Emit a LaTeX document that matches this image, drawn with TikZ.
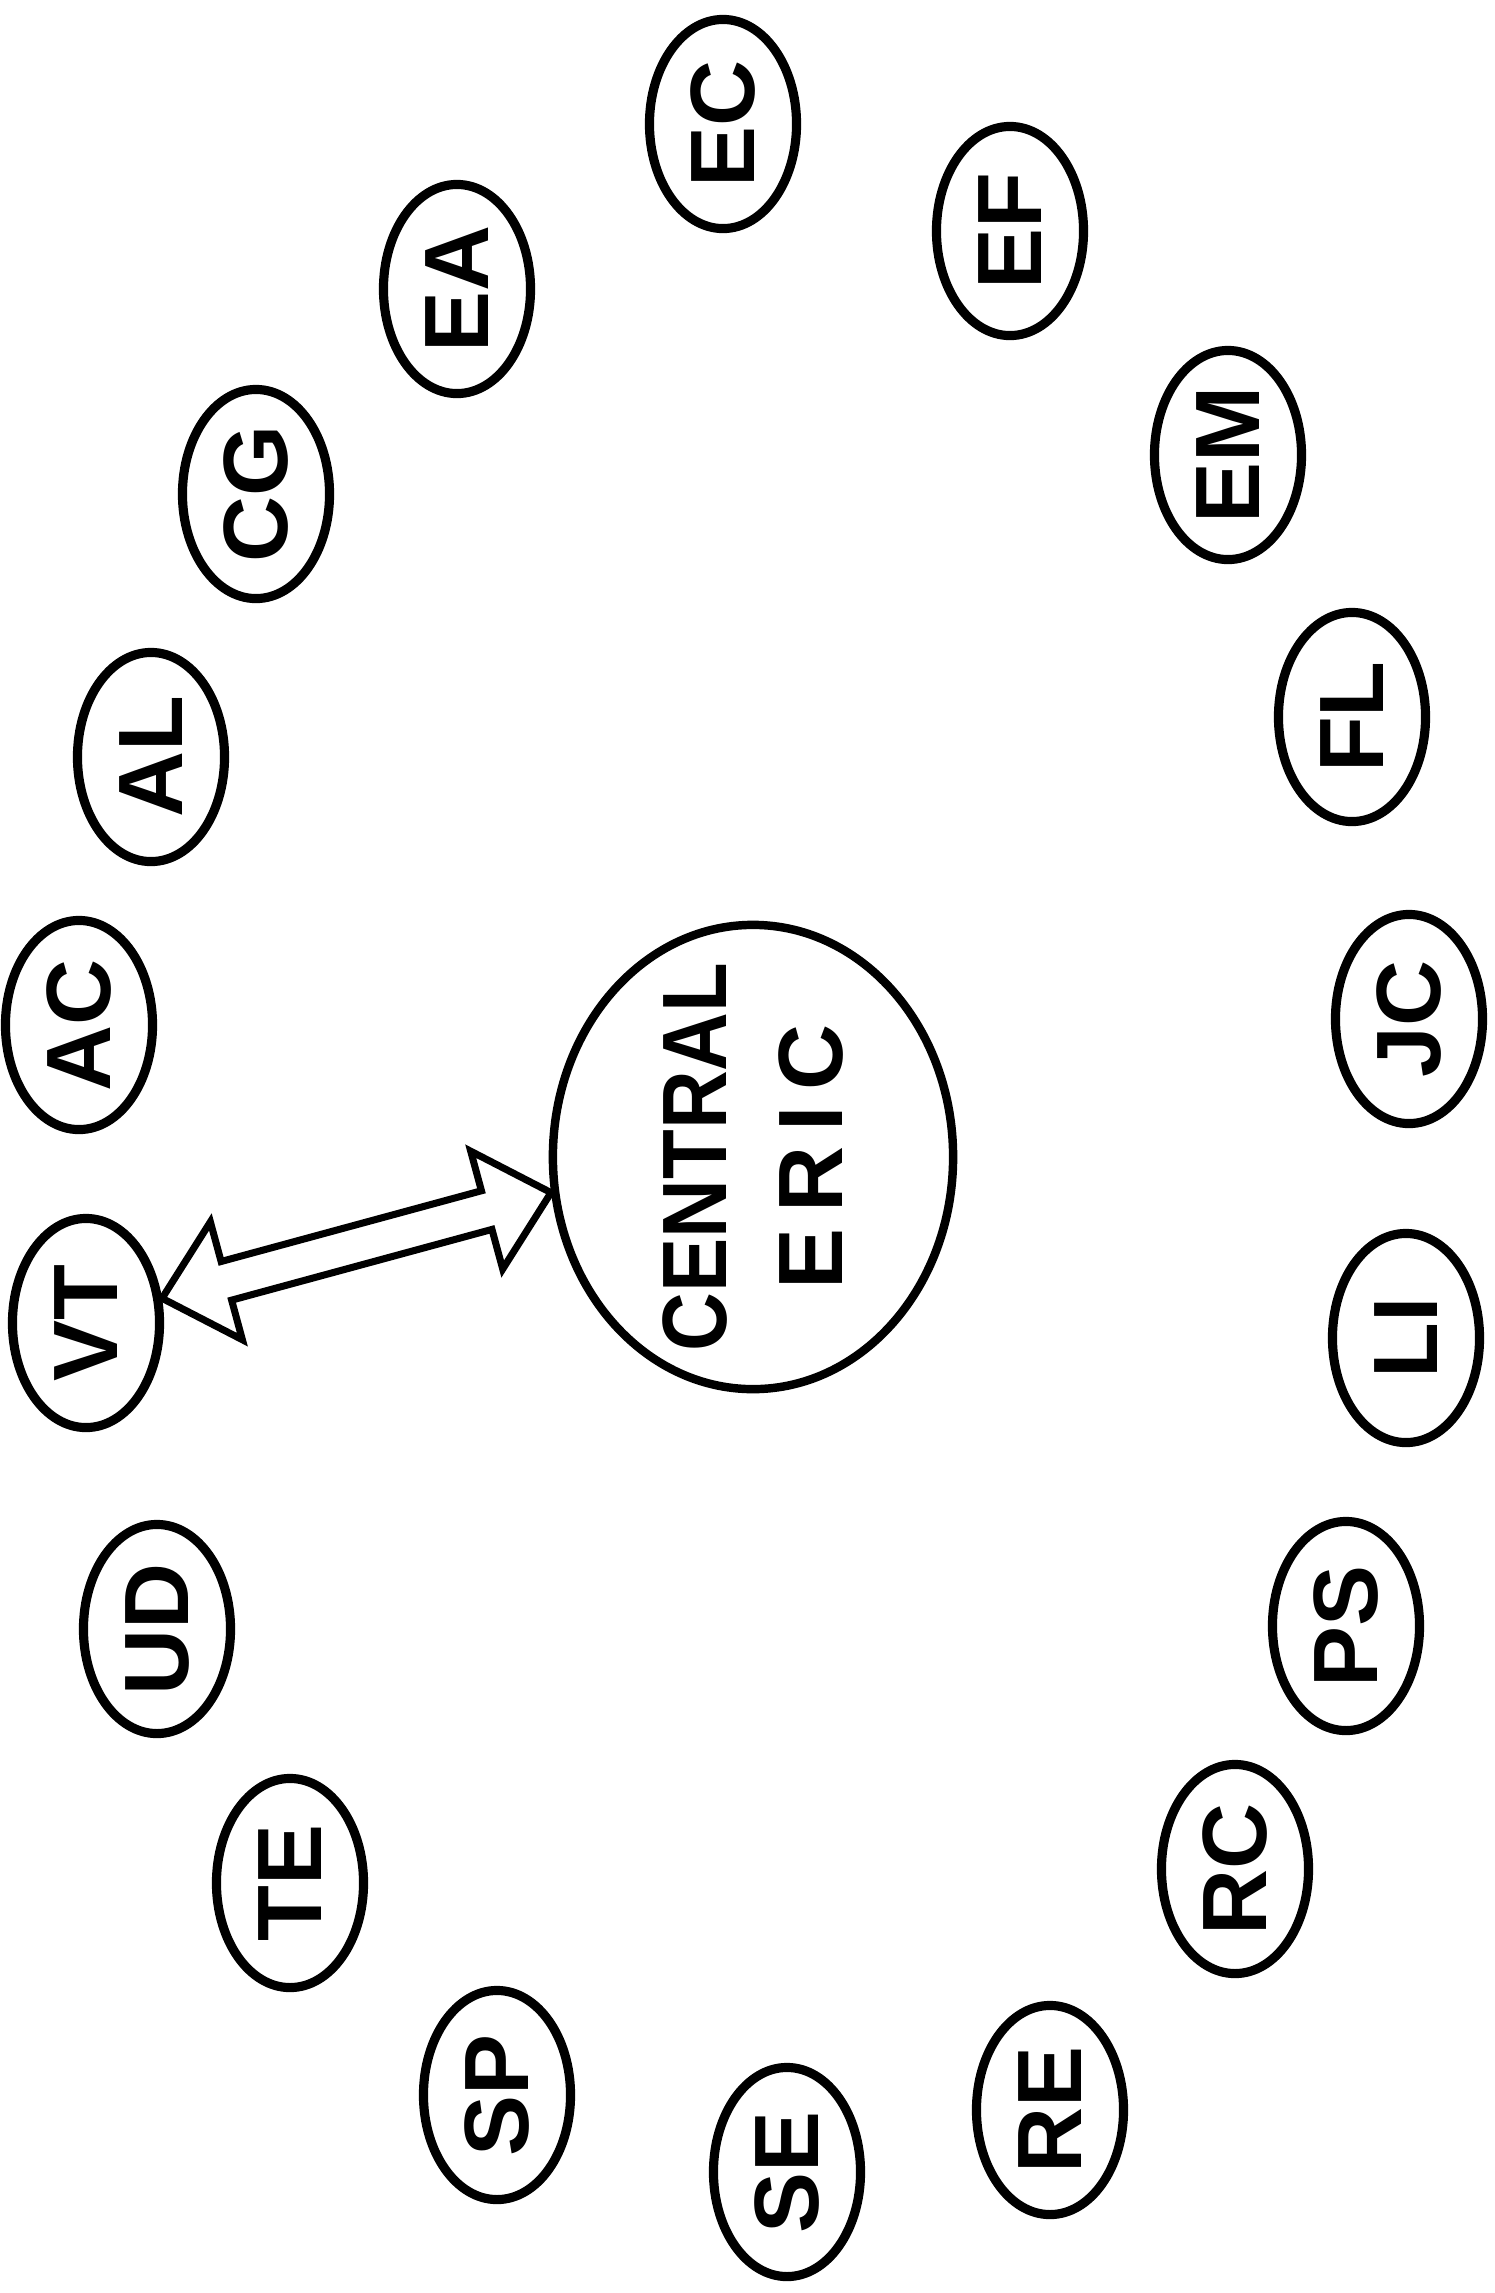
\documentclass[tikz,border=0pt]{standalone}
\usepackage{fontspec}
\newfontfamily\letterset{Liberation Sans}
\usepackage{tikz}
\usetikzlibrary{shapes.geometric, shapes.arrows, calc}

\begin{document}
\begin{tikzpicture}[
    x=0.01cm, y=-0.01cm,
    every node/.style={font=\letterset\bfseries\fontsize{26}{33}\selectfont},
    member/.style={ellipse, draw, line width=2.6pt, rotate=90, minimum width=2.09cm, minimum height=1.47cm, inner sep=0pt},
    hub/.style={ellipse, draw, line width=2.4pt, rotate=90, minimum width=4.64cm, minimum height=4cm, inner xsep=-1cm, inner ysep=-0.6cm, align=center},
    link/.style={double arrow, draw, fill=white, line width=2pt, inner xsep=0pt, inner ysep=0.165cm, double arrow head extend=0.41cm, double arrow tip angle=85},
]
    \useasboundingbox (0,0) rectangle (1495,2293);

    % ring, clockwise from the top
    \node[member] (ec) at (723,124) {EC};
    \node[member] (ef) at (1010,231) {EF};
    \node[member] (em) at (1228,455) {EM};
    \node[member] (fl) at (1352,717) {FL};
    \node[member] (jc) at (1409,1019) {JC};
    \node[member] (li) at (1406,1338) {LI};
    \node[member] (ps) at (1346,1626) {PS};
    \node[member] (rc) at (1235,1869) {RC};
    \node[member] (re) at (1050,2110) {RE};
    \node[member] (se) at (787,2172) {SE};
    \node[member] (sp) at (497,2095) {SP};
    \node[member] (te) at (290,1883) {TE};
    \node[member] (ud) at (157,1629) {UD};
    \node[member] (vt) at (86,1323) {VT};
    \node[member] (ac) at (79,1025) {AC};
    \node[member] (al) at (151,757) {AL};
    \node[member] (cg) at (256,494) {CG};
    \node[member] (ea) at (457,289) {EA};

    % hub
    \node[hub] (central) at (753,1157) {\scalebox{0.89}[1]{CENTRAL}\\E\,R\,I\,C};

    % hollow double arrow VT <-> hub
    \path let \p1=(vt.-72), \p2=(central.100),
        \n1={atan2(\y2-\y1,\x2-\x1)}, \n2={veclen(\x2-\x1,\y2-\y1)} in
        node[link, rotate=\n1, minimum height=\n2] (vtlink) at ($(\p1)!0.5!(\p2)$) {};
\end{tikzpicture}
\end{document}
